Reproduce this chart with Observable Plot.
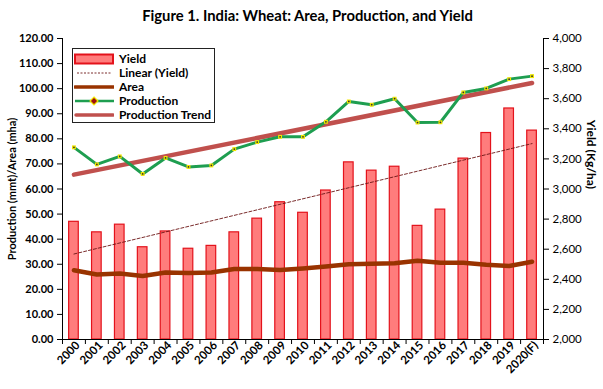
<!DOCTYPE html>
<html>
<head>
<meta charset="utf-8">
<script src="https://cdn.jsdelivr.net/npm/d3@7"></script>
<script src="https://cdn.jsdelivr.net/npm/@observablehq/plot@0.6"></script>
<style>
  body { margin: 0; background: #fff; font-family: Lato, "Open Sans", sans-serif; }
  #wrap { position: relative; width: 603px; height: 389px; }
  #title { height: 28px; line-height: 30px; text-align: center; font-weight: bold; font-size: 14.8px; color: #000; padding-left: 12px; }
  #legend { position: absolute; left: 72px; top: 48px; width: 143px; height: 75px; border: 1px solid #222; background: #fff; overflow: hidden; font-weight: bold; font-size: 12px; line-height: 14px; box-sizing: border-box; }
  #legend .row { display: flex; align-items: center; height: 14.1px; }
  #legend svg { width: 40px; height: 12px; margin-left: 1px; margin-right: 5px; flex: none; }
</style>
</head>
<body>
<div id="wrap">
  <div id="title">Figure 1. India: Wheat: Area, Production, and Yield</div>
  <div id="chart"></div>
  <div id="legend"></div>
</div>
<script>
const years = ["2000","2001","2002","2003","2004","2005","2006","2007","2008","2009","2010",
  "2011","2012","2013","2014","2015","2016","2017","2018","2019","2020(F)"];
const yieldKgHa = [2782,2712,2763,2613,2718,2603,2622,2712,2803,2912,2842,
  2990,3177,3122,3148,2755,2863,3202,3372,3535,3388];
const productionMmt = [76.6,69.8,73.0,66.0,72.4,68.8,69.4,75.9,78.7,80.8,80.8,
  86.8,94.9,93.6,96.0,86.5,86.6,98.5,100.1,103.8,105.0];
const areaMha = [27.6,25.9,26.3,25.3,26.7,26.5,26.7,28.1,28.1,27.7,28.3,
  29.1,30.0,30.2,30.4,31.4,30.6,30.6,29.8,29.3,31.0];
const leftTicks = [0,10,20,30,40,50,60,70,80,90,100,110,120];
const rightTicks = [2000,2200,2400,2600,2800,3000,3200,3400,3600,3800,4000];
const leftDomain = [0, 120];
const rightDomain = [2000, 4000];

const colors = {
  barFill: "#ff7c7c", barStroke: "#e3121b", linear: "#6b1414",
  area: "#993300", production: "#1e9e50", trend: "#c0504d", marker: "#f2e600"
};

const toLeft = v => (v - rightDomain[0]) / (rightDomain[1] - rightDomain[0]) * (leftDomain[1] - leftDomain[0]) + leftDomain[0];
const fromLeft = v => (v - leftDomain[0]) / (leftDomain[1] - leftDomain[0]) * (rightDomain[1] - rightDomain[0]) + rightDomain[0];

const data = years.map((y, i) => ({
  year: y, idx: i, yieldL: toLeft(yieldKgHa[i]),
  production: productionMmt[i], area: areaMha[i]
}));

const W = 603, H = 361;
const mL = 62, mR = 60, mT = 10, mB = 50;
const half = 0.21; // half bar width in category units
const idxs = years.map((_, i) => i);
const edges = [...idxs.map(i => i - 0.5), years.length - 0.5];

const chart = Plot.plot({
  width: W, height: H,
  marginLeft: mL, marginRight: mR, marginTop: mT, marginBottom: mB,
  style: { fontFamily: "Lato, 'Open Sans', sans-serif", color: "#000", background: "#fff" },
  x: { type: "linear", domain: [-0.5, years.length - 0.5] },
  y: { type: "linear", domain: leftDomain },
  marks: [
    Plot.rectY(data, { x1: d => d.idx - half, x2: d => d.idx + half, y1: leftDomain[0], y2: "yieldL",
      fill: colors.barFill, stroke: colors.barStroke, strokeWidth: 1.2 }),
    Plot.linearRegressionY(data, { x: "idx", y: "yieldL", stroke: colors.linear, strokeWidth: 0.9, strokeDasharray: "3,2", ci: 0 }),
    Plot.line(data, { x: "idx", y: "area", stroke: colors.area, strokeWidth: 4.5 }),
    Plot.linearRegressionY(data, { x: "idx", y: "production", stroke: colors.trend, strokeWidth: 4.5, ci: 0 }),
    Plot.line(data, { x: "idx", y: "production", stroke: colors.production, strokeWidth: 3 }),
    Plot.dot(data, { x: "idx", y: "production", r: 2.2, fill: colors.marker, stroke: "none", symbol: "square" }),
    Plot.dot(data, { x: "idx", y: "production", r: 0.9, fill: "#333", stroke: "none" }),
    // left axis
    Plot.axisY({ anchor: "left", ticks: leftTicks, tickFormat: d => d.toFixed(2), tickSize: 5, fontWeight: "bold", fontSize: 11, tickPadding: 4,
      label: "Production (mmt)/Area (mha)", labelAnchor: "center", labelArrow: "none", labelOffset: 54 }),
    // right axis
    Plot.axisY({ anchor: "right", ticks: rightTicks.map(toLeft), tickFormat: d => d3.format(",")(Math.round(fromLeft(d))), tickSize: 5, fontSize: 11.5, tickPadding: 4,
      label: null }),
    Plot.ruleX([-0.5, years.length - 0.5], { stroke: "#000" }),
    Plot.text(["Yield (Kg/ha)"], { frameAnchor: "right", dx: 47, rotate: 90, fontWeight: "bold", fontSize: 12 }),
    // x axis
    Plot.ruleY([leftDomain[0]], { stroke: "#000" }),
    Plot.axisX({ ticks: edges, tickSize: 5, tickFormat: () => "", label: null }),
    Plot.axisX({ ticks: idxs, tickSize: 0, tickRotate: -45, tickFormat: i => years[i], fontWeight: "bold", fontSize: 11.5, tickPadding: 4, dx: 4, label: null })
  ]
});
document.getElementById("chart").appendChild(chart);

// legend
const legendItems = [
  { label: "Yield", kind: "bar" },
  { label: "Linear (Yield)", kind: "dash" },
  { label: "Area", kind: "area" },
  { label: "Production", kind: "prod" },
  { label: "Production Trend", kind: "trend" }
];
const lg = d3.select("#legend").style("padding-top", "3px");
for (const it of legendItems) {
  const row = lg.append("div").attr("class", "row");
  const s = row.append("svg").attr("viewBox", "0 0 40 12");
  if (it.kind === "bar") {
    s.append("rect").attr("x", 1).attr("y", 1.5).attr("width", 38).attr("height", 9).attr("fill", colors.barFill).attr("stroke", colors.barStroke).attr("stroke-width", 2);
  } else if (it.kind === "dash") {
    s.append("line").attr("x1", 3).attr("x2", 38).attr("y1", 6).attr("y2", 6).attr("stroke", colors.linear).attr("stroke-width", 0.9).attr("stroke-dasharray", "2,1.5");
  } else if (it.kind === "area") {
    s.append("line").attr("x1", 1).attr("x2", 40).attr("y1", 6).attr("y2", 6).attr("stroke", colors.area).attr("stroke-width", 3.5).attr("stroke-linecap", "round");
  } else if (it.kind === "prod") {
    s.append("line").attr("x1", 1).attr("x2", 40).attr("y1", 6).attr("y2", 6).attr("stroke", colors.production).attr("stroke-width", 2.5);
    s.append("path").attr("d", "M20,2 L24,6 L20,10 L16,6 Z").attr("fill", "#a01010").attr("stroke", colors.marker).attr("stroke-width", 1.2);
  } else {
    s.append("line").attr("x1", 2).attr("x2", 39).attr("y1", 6).attr("y2", 6).attr("stroke", colors.trend).attr("stroke-width", 3.5).attr("stroke-linecap", "round");
  }
  row.append("span").text(it.label);
}
</script>
</body>
</html>
